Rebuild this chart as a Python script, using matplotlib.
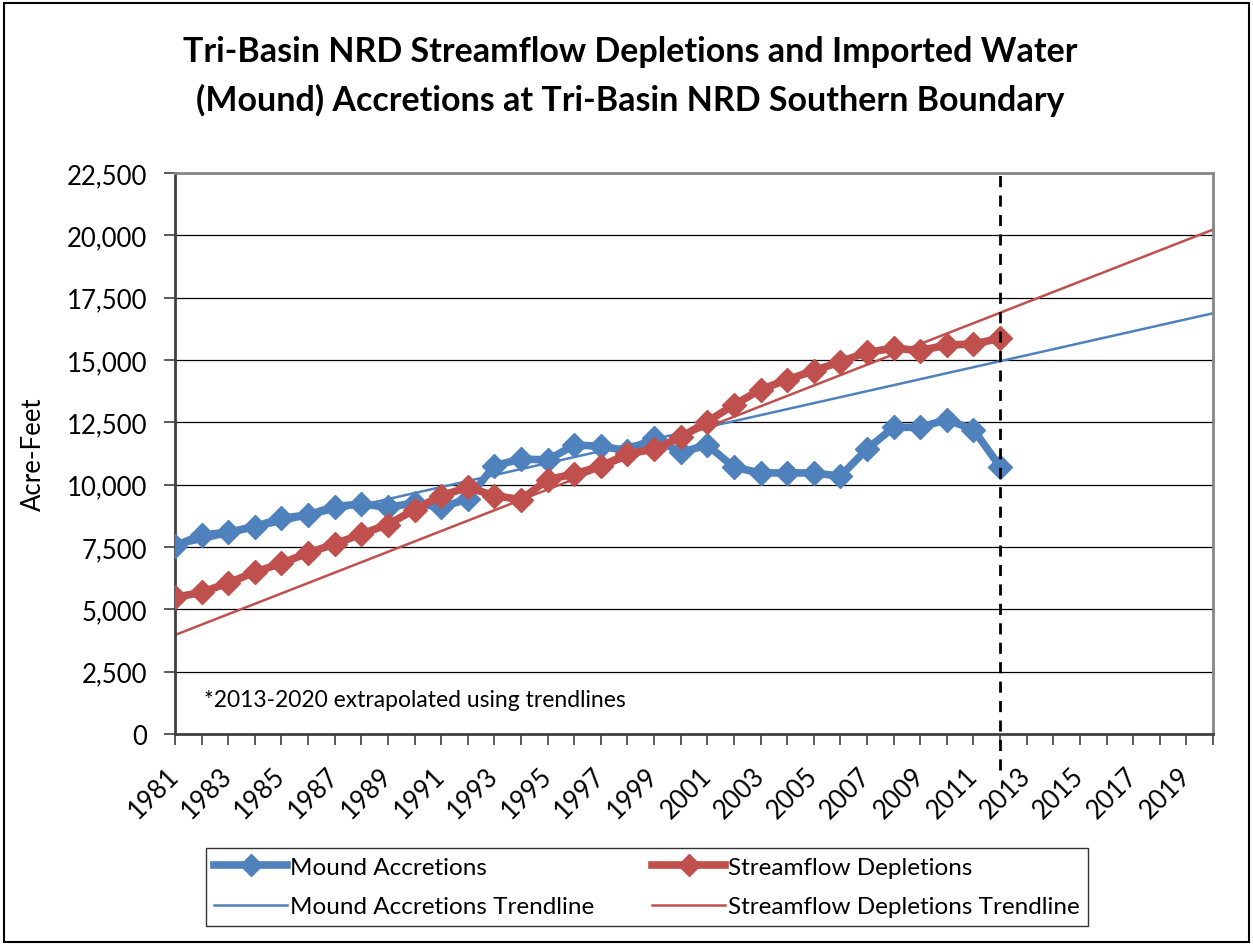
import matplotlib
matplotlib.use("Agg")
import matplotlib.pyplot as plt
from matplotlib.patches import Rectangle
from matplotlib.ticker import FuncFormatter, MultipleLocator, FixedLocator

# ---- data ----
years = list(range(1981, 2013))
mound_accretions = [
    7550, 7980, 8090, 8320, 8650, 8790, 9120, 9230, 9090, 9270,
    9090, 9430, 10760, 11030, 10990, 11590, 11540, 11360, 11860, 11300,
    11590, 10700, 10470, 10470, 10470, 10340, 11430, 12300, 12300, 12610,
    12210, 10720,
]
streamflow_depletions = [
    5480, 5680, 6060, 6490, 6850, 7260, 7620, 8020, 8400, 9000,
    9560, 9890, 9560, 9400, 10200, 10430, 10740, 11230, 11430, 11900,
    12530, 13200, 13810, 14210, 14570, 14930, 15310, 15470, 15380, 15600,
    15640, 15870,
]
# trendlines (linear), values at the ends of the axis
trend_years = [1981, 2020]
mound_trend = [7500, 16875]
streamflow_trend = [3970, 20230]

cutoff_year = 2012
axis_years = [1981, 2020]
y_ticks = list(range(0, 22501, 2500))

BLUE = "#4F81BD"
RED = "#C0504D"
FONT = ["Lato", "DejaVu Sans"]

plt.rcParams["font.family"] = FONT

fig = plt.figure(figsize=(12.53, 9.45), dpi=100)
ax = fig.add_axes([175 / 1253, 1 - 735 / 945, (1213 - 175) / 1253, (735 - 174) / 945])

# gridlines
ax.set_yticks(y_ticks)
ax.yaxis.grid(True, color="black", lw=0.9)
ax.set_axisbelow(True)

ax.plot(trend_years, mound_trend, color=BLUE, lw=1.8, zorder=2)
ax.plot(trend_years, streamflow_trend, color=RED, lw=1.8, zorder=2)
ax.plot(years, mound_accretions, color=BLUE, lw=5.5, marker="D", ms=12,
        solid_joinstyle="round", zorder=3)
ax.plot(years, streamflow_depletions, color=RED, lw=5.5, marker="D", ms=12,
        solid_joinstyle="round", zorder=4)

ax.axvline(cutoff_year, ymin=-0.064, ymax=1, color="black", lw=2,
           ls=(0, (4, 3)), clip_on=False, zorder=5)

ax.set_xlim(axis_years)
ax.set_ylim(y_ticks[0], y_ticks[-1])
ax.xaxis.set_major_locator(FixedLocator(list(range(1981, 2021, 2))))
ax.xaxis.set_minor_locator(MultipleLocator(1))
ax.set_xticklabels([str(y) if y <= 2019 else "" for y in range(1981, 2021, 2)],
                   rotation=45, ha="right", va="center", rotation_mode="anchor",
                   fontsize=18.5)
ax.yaxis.set_major_formatter(FuncFormatter(lambda v, _p: f"{int(v):,}"))
ax.tick_params(axis="y", labelsize=18.5, length=8, width=1.2, color="#404040", pad=12)
ax.tick_params(axis="x", which="both", length=8, width=1.2, color="#404040", pad=19)

for side in ("left", "bottom"):
    ax.spines[side].set_color("#404040")
    ax.spines[side].set_linewidth(2)
for side in ("top", "right"):
    ax.spines[side].set_color("#868686")
    ax.spines[side].set_linewidth(2)

ax.set_ylabel("Acre-Feet", fontsize=18.5)
ax.yaxis.set_label_coords((46 - 175) / (1213 - 175), 0.5)

ax.text(0.028, 0.042, "*2013-2020 extrapolated using trendlines",
        transform=ax.transAxes, fontsize=16.5, ha="left", va="bottom")

fig.text(0.503, 1 - 52 / 945, "Tri-Basin NRD Streamflow Depletions and Imported Water",
         ha="center", va="center", fontsize=24.5, fontweight="bold")
fig.text(0.503, 1 - 100 / 945, "(Mound) Accretions at Tri-Basin NRD Southern Boundary",
         ha="center", va="center", fontsize=24.5, fontweight="bold")

h1, = ax.plot([], [], color=BLUE, lw=5.5, marker="D", ms=12)
h2, = ax.plot([], [], color=BLUE, lw=1.8)
h3, = ax.plot([], [], color=RED, lw=5.5, marker="D", ms=12)
h4, = ax.plot([], [], color=RED, lw=1.8)
leg = fig.legend(
    [h1, h2, h3, h4],
    ["Mound Accretions", "Mound Accretions Trendline",
     "Streamflow Depletions", "Streamflow Depletions Trendline"],
    ncol=2, loc="center", bbox_to_anchor=(647 / 1253, 1 - 888 / 945),
    fontsize=17.5, frameon=True, fancybox=False, edgecolor="black",
    handlelength=3.0, handletextpad=0.1, columnspacing=2.4,
    labelspacing=0.75, borderpad=0.35, markerscale=0.9,
)
leg.get_frame().set_linewidth(1.0)

fig.patches.append(Rectangle((0.003, 0.002), 0.994, 0.994, transform=fig.transFigure,
                             fill=False, edgecolor="black", lw=1.5))

fig.savefig("out.png", dpi=100)
